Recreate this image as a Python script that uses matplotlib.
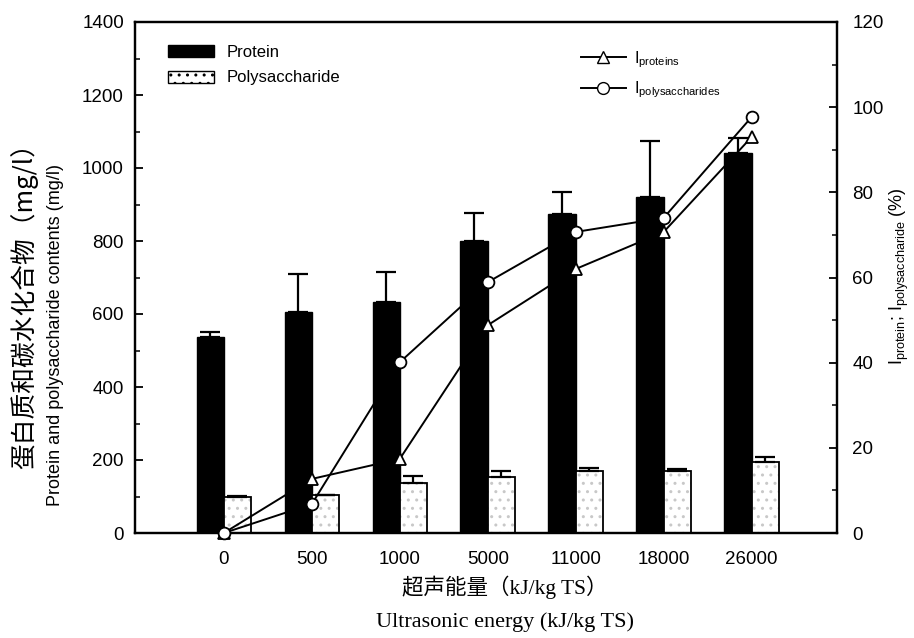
import matplotlib
matplotlib.use("Agg")
import matplotlib.pyplot as plt
import numpy as np
from matplotlib.patches import Patch
from matplotlib.lines import Line2D
from matplotlib.ticker import MultipleLocator

plt.rcParams['font.family'] = ['Liberation Sans', 'Noto Sans CJK SC', 'DejaVu Sans']
plt.rcParams['mathtext.fontset'] = 'custom'
plt.rcParams['mathtext.rm'] = 'Liberation Sans'
plt.rcParams['mathtext.it'] = 'Liberation Sans:italic'

categories = ['0', '500', '1000', '5000', '11000', '18000', '26000']
protein = [537, 605, 633, 800, 874, 921, 1041]
protein_err = [14, 105, 82, 77, 60, 153, 40]
polysaccharide = [99, 104, 137, 153, 170, 170, 195]
polysaccharide_err = [2, 0, 19, 17, 8, 6, 13]
i_proteins = [0, 12.7, 17.4, 48.8, 62.0, 70.7, 93.0]
i_polysaccharides = [0, 6.8, 40.1, 58.9, 70.7, 74.0, 97.7]

fig = plt.figure(figsize=(9.14, 6.38), dpi=100)
ax = fig.add_axes([135/914, 1-533/638, (837-135)/914, (533-22)/638])
x = np.arange(len(categories))
w = 0.31

ax.bar(x - w/2, protein, w, color='black', edgecolor='black', zorder=2)
ax.errorbar(x - w/2, protein, yerr=[np.zeros(len(x)), protein_err], fmt='none',
            ecolor='black', elinewidth=1.6, capsize=7, capthick=1.6, zorder=3)
ax.bar(x + w/2, polysaccharide, w, color='white', edgecolor='#c8c8c8', linewidth=0,
       hatch='..', zorder=2)
ax.bar(x + w/2, polysaccharide, w, fill=False, edgecolor='black', linewidth=1.3, zorder=2)
ax.errorbar(x + w/2, polysaccharide, yerr=[np.zeros(len(x)), polysaccharide_err], fmt='none',
            ecolor='black', elinewidth=1.6, capsize=7, capthick=1.6, zorder=3)

ax.set_xlim(-1.01, 6.97)
ax.set_ylim(0, 1400)
ax.yaxis.set_major_locator(MultipleLocator(200))
ax.yaxis.set_minor_locator(MultipleLocator(100))
ax.tick_params(axis='y', which='major', direction='in', length=6, width=1.3, labelsize=13.5, pad=8)
ax.tick_params(axis='y', which='minor', direction='in', length=3.5, width=1.1)
ax.set_xticks(x)
ax.set_xticklabels(categories)
ax.tick_params(axis='x', length=0, labelsize=13.5, pad=13)
for s in ax.spines.values():
    s.set_linewidth(1.6)

ax2 = ax.twinx()
ax2.plot(x, i_proteins, color='black', lw=1.4, marker='^', ms=8.5, mfc='white',
         mec='black', mew=1.3, zorder=5, clip_on=False)
ax2.plot(x, i_polysaccharides, color='black', lw=1.4, marker='o', ms=8.5, mfc='white',
         mec='black', mew=1.3, zorder=5, clip_on=False)
ax2.set_ylim(0, 120)
ax2.yaxis.set_major_locator(MultipleLocator(20))
ax2.yaxis.set_minor_locator(MultipleLocator(10))
ax2.tick_params(axis='y', which='major', direction='in', length=6, width=1.3, labelsize=13.5, pad=11)
ax2.tick_params(axis='y', which='minor', direction='in', length=3.5, width=1.1)
for s in ax2.spines.values():
    s.set_linewidth(1.6)

h1 = [Patch(facecolor='black', edgecolor='black'),
      Patch(facecolor='white', edgecolor='black', hatch='..')]
ax.legend(h1, ['Protein', 'Polysaccharide'], loc='upper left',
          bbox_to_anchor=(0.025, 0.985), frameon=False, fontsize=12,
          handlelength=2.8, handleheight=0.75, handletextpad=0.75, labelspacing=0.65)

h2 = [Line2D([], [], color='black', lw=1.4, marker='^', ms=8.5, mfc='white', mec='black'),
      Line2D([], [], color='black', lw=1.4, marker='o', ms=8.5, mfc='white', mec='black')]
ax2.legend(h2, [r'I$_{\rm proteins}$', r'I$_{\rm polysaccharides}$'], loc='upper left',
           bbox_to_anchor=(0.615, 0.975), frameon=False, fontsize=11.5,
           handlelength=2.8, handletextpad=0.5, labelspacing=0.6)

fig.text(24/914, 1-300/638, '蛋白质和碳水化合物（mg/l）', rotation=90, ha='center', va='center',
         fontsize=18.5, family=['Noto Sans CJK SC', 'DejaVu Sans'])
fig.text(56/914, 1-335/638, 'Protein and polysaccharide contents (mg/l)', rotation=90,
         ha='center', va='center', fontsize=13)
fig.text(899/914, 1-276/638, r'I$_{\rm protein}$; I$_{\rm polysaccharide}$ (%)', rotation=90,
         ha='center', va='center', fontsize=13)
fig.text(505/914, 1-587/638, '超声能量（kJ/kg TS）', ha='center', va='center',
         fontsize=15.5, family=['Liberation Serif', 'Noto Sans CJK SC'])
fig.text(505/914, 1-622/638, 'Ultrasonic energy (kJ/kg TS)', ha='center', va='center',
         fontsize=16, family=['Liberation Serif'])

fig.savefig('out.png', dpi=100)
